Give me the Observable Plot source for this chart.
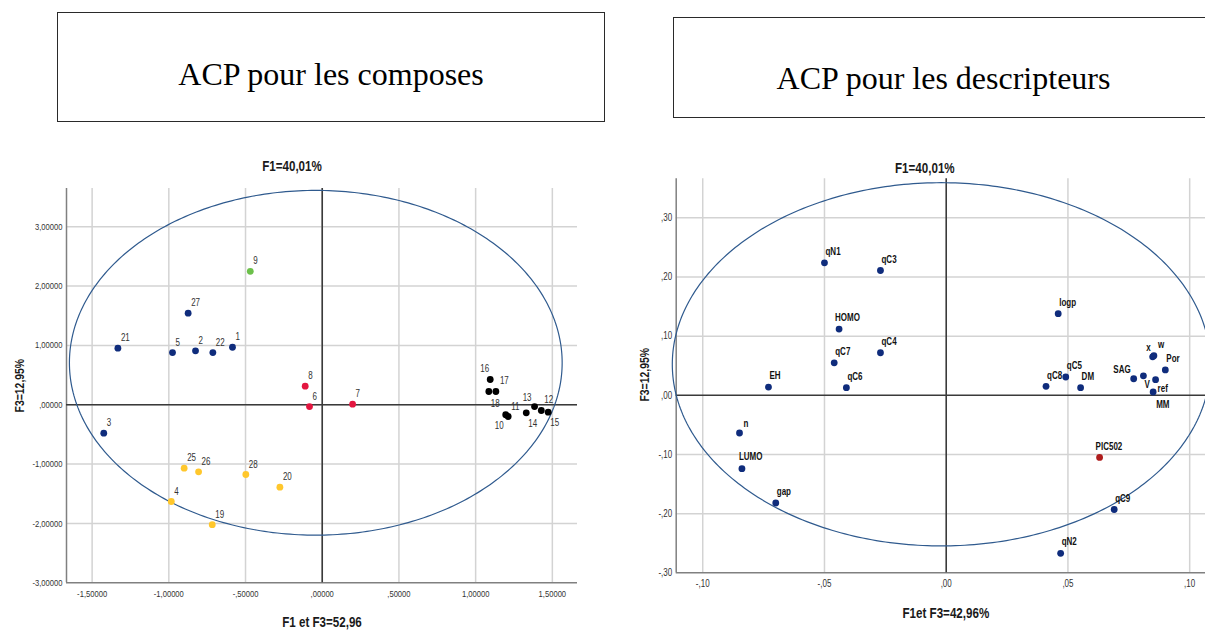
<!DOCTYPE html>
<html>
<head>
<meta charset="utf-8">
<script src="https://cdn.jsdelivr.net/npm/d3@7"></script>
<script src="https://cdn.jsdelivr.net/npm/@observablehq/plot@0.6"></script>
<style>
html,body{margin:0;padding:0;background:#fff;width:1205px;height:631px;overflow:hidden;}
#page{position:relative;width:1205px;height:631px;overflow:hidden;background:#fff;}
.tbox{position:absolute;box-sizing:border-box;border:1px solid #2a2a2a;}
.ttxt{position:absolute;text-align:center;font-family:"Liberation Serif","Times New Roman",serif;font-size:32px;line-height:32px;color:#000;white-space:nowrap;}
.chart{position:absolute;top:150px;height:481px;}
</style>
</head>
<body>
<div id="page">
  <div class="tbox" style="left:57px;top:12px;width:548px;height:110px"></div>
  <div class="ttxt" id="titleL" style="left:57px;width:548px;top:58px"></div>
  <div class="tbox" style="left:673px;top:17px;width:560px;height:101px"></div>
  <div class="ttxt" id="titleR" style="left:673px;width:541px;top:62px"></div>
  <div class="chart" id="chartL" style="left:0;width:640px"></div>
  <div class="chart" id="chartR" style="left:628px;width:577px"></div>
</div>
<script>
// ---------------- texts ----------------
const titleLeft = "ACP pour les composes";
const titleRight = "ACP pour les descripteurs";
const topTitleL = "F1=40,01%";
const bottomTitleL = "F1 et F3=52,96";
const yTitleL = "F3=12,95%";
const topTitleR = "F1=40,01%";
const bottomTitleR = "F1et F3=42,96%";
const yTitleR = "F3=12,95%";

// ---------------- left chart data: compounds ----------------
const compoundIds = ["1","2","3","4","5","6","7","8","9","10","11","12","13","14","15","16","17","18","19","20","21","22","25","26","27","28"];
const compoundF1 = [-0.585,-0.826,-1.424,-0.984,-0.976,-0.083,0.198,-0.111,-0.469,1.196,1.212,1.428,1.384,1.330,1.473,1.095,1.132,1.086,-0.717,-0.276,-1.332,-0.713,-0.900,-0.806,-0.874,-0.498];
const compoundF3 = [0.97,0.91,-0.478,-1.63,0.88,-0.03,0.01,0.314,2.25,-0.168,-0.197,-0.096,-0.03,-0.135,-0.124,0.426,0.224,0.224,-2.02,-1.389,0.954,0.88,-1.068,-1.13,1.544,-1.175];
const compoundGroup = ["A","A","A","B","A","C","C","C","D","E","E","E","E","E","E","E","E","E","B","B","A","A","B","B","A","B"];
const groupDomainL = ["A","B","C","D","E"];
const groupColorsL = ["#0f2c7c","#ffc72c","#e31640","#6cc04a","#000000"];
const xTicksL = [-1.5,-1,-0.5,0,0.5,1,1.5];
const yTicksL = [-3,-2,-1,0,1,2,3];
const xDomainL = [-1.667, 1.664];
const yDomainL = [-3.0, 3.645];
const ellipseL = {cx: -0.042, cy: 0.708, rx: 1.606, ry: 2.905};

// ---------------- right chart data: descriptors ----------------
const descNames = ["qN1","qC3","HOMO","qC4","qC7","qC6","EH","n","LUMO","gap","logp","qC8","qC5","DM","SAG","V","x","w","Por","ref","MM","PIC502","qC9","qN2"];
const descF1 = [-0.050,-0.027,-0.044,-0.027,-0.046,-0.041,-0.073,-0.0849,-0.0839,-0.070,0.046,0.041,0.0491,0.0552,0.077,0.081,0.0848,0.0853,0.090,0.086,0.085,0.063,0.069,0.047];
const descF3 = [0.224,0.211,0.112,0.072,0.055,0.013,0.014,-0.0637,-0.124,-0.182,0.138,0.0152,0.031,0.013,0.028,0.033,0.065,0.067,0.043,0.0265,0.0056,-0.105,-0.193,-0.267];
const descType = descNames.map(n => n === "PIC502" ? "activite" : "descripteur");
const typeDomainR = ["descripteur","activite"];
const typeColorsR = ["#0f2c7c","#ae1c1c"];
const xTicksR = [-0.10,-0.05,0,0.05,0.10];
const yTicksR = [-0.30,-0.20,-0.10,0,0.10,0.20,0.30];
const xDomainR = [-0.1109, 0.1065];
const yDomainR = [-0.30, 0.366];
const ellipseR = {cx: -0.002, cy: 0.0524, rx: 0.1105, ry: 0.307};

// ---------------- label placement (style) ----------------
const labelDefaultL = {anchor: "start", dx: 3, dy: -10};
const labelPlaceL = {
  "16": {anchor: "end", dx: -1, dy: -11},
  "17": {dx: 4, dy: -11},
  "18": {dx: 2, dy: 12},
  "10": {anchor: "end", dx: -2, dy: 11},
  "11": {dx: 3, dy: -10},
  "14": {dx: 2, dy: 11},
  "13": {anchor: "end", dx: -3, dy: -9},
  "12": {dx: 3, dy: -11},
  "15": {dx: 2, dy: 11}
};
const labelDefaultR = {anchor: "start", dx: 1, dy: -11};
const labelPlaceR = {
  "SAG": {anchor: "end", dx: -3, dy: -9},
  "x": {anchor: "end", dx: -2, dy: -9},
  "w": {dx: 4, dy: -11},
  "V": {dx: 1, dy: 9},
  "ref": {dx: 2, dy: 9},
  "MM": {dx: 3, dy: 13},
  "n": {dx: 4, dy: -9},
  "LUMO": {dx: -3, dy: -12},
  "HOMO": {dx: -4, dy: -11},
  "PIC502": {dx: -4, dy: -11}
};

// ---------------- helpers ----------------
const compounds = compoundIds.map((id, i) => ({id, f1: compoundF1[i], f3: compoundF3[i], group: compoundGroup[i]}));
const descriptors = descNames.map((id, i) => ({id, f1: descF1[i], f3: descF3[i], type: descType[i]}));

function spssFormat(digits) {
  return v => {
    let s = Math.abs(v).toFixed(digits).replace(".", ",");
    if (s.startsWith("0,")) s = s.slice(1);
    return (v < -1e-12 ? "-" : "") + s;
  };
}
function ellipsePoints(e, n) {
  return d3.range(n + 1).map(i => {
    const t = 2 * Math.PI * i / n;
    return {x: e.cx + e.rx * Math.cos(t), y: e.cy + e.ry * Math.sin(t)};
  });
}
function labelMarks(rows, place, def, style) {
  return rows.map(r => {
    const p = Object.assign({}, def, place[r.id] || {});
    return Plot.text([r], Object.assign({x: "f1", y: "f3", text: "id", dx: p.dx, dy: p.dy, textAnchor: p.anchor}, style));
  });
}
// condense horizontal texts (SPSS uses a narrow face); stretch rotated titles
function condense(svg, factor, fixedLengths) {
  svg.querySelectorAll("text").forEach(t => {
    const g = t.closest("g[aria-label]");
    const lab = g ? g.getAttribute("aria-label") : "";
    let len;
    if (fixedLengths[lab]) len = fixedLengths[lab];
    else { const w = t.getComputedTextLength(); if (!(w > 0)) return; len = w * factor; }
    t.setAttribute("textLength", len.toFixed(2));
    t.setAttribute("lengthAdjust", "spacingAndGlyphs");
  });
}

const FONT = "'Liberation Sans',Arial,sans-serif";
const gridStyle = {stroke: "#d3d3d3", strokeOpacity: 1, strokeWidth: 1.5};
const zeroStyle = {stroke: "#3a3a3a", strokeWidth: 1.6};
const frameStyle = {stroke: "#808080", strokeWidth: 1.5};
const axisTitleStyle = {fontWeight: "bold", fontSize: 14.5, fill: "#1a1a1a", textAnchor: "middle", lineAnchor: "middle"};
const yTitleStyle = {fontWeight: "bold", fontSize: 13, fill: "#1a1a1a", rotate: -90, frameAnchor: "left", textAnchor: "middle", lineAnchor: "middle", ariaLabel: "y-title"};

document.getElementById("titleL").textContent = titleLeft;
document.getElementById("titleR").textContent = titleRight;

// ---------------- left plot ----------------
const plotL = Plot.plot({
  width: 640, height: 481,
  marginLeft: 66, marginRight: 63, marginTop: 38, marginBottom: 48.7,
  style: {fontFamily: FONT, fontSize: "9px", background: "transparent", color: "#333"},
  x: {domain: xDomainL},
  y: {domain: yDomainL},
  color: {domain: groupDomainL, range: groupColorsL},
  marks: [
    Plot.gridX(xTicksL, gridStyle),
    Plot.gridY(yTicksL.filter(v => v !== yDomainL[0]), gridStyle),
    Plot.ruleX([xDomainL[0]], frameStyle),
    Plot.ruleY([yDomainL[0]], frameStyle),
    Plot.ruleX([0], zeroStyle),
    Plot.ruleY([0], zeroStyle),
    Plot.axisX(xTicksL, {anchor: "bottom", tickSize: 0, tickPadding: 7, tickFormat: spssFormat(5), label: null, fill: "#333", fontSize: 9.5}),
    Plot.axisY(yTicksL, {anchor: "left", tickSize: 0, tickPadding: 4, tickFormat: spssFormat(5), label: null, fill: "#333", fontSize: 9.5}),
    Plot.line(ellipsePoints(ellipseL, 360), {x: "x", y: "y", stroke: "#2f5a8e", strokeWidth: 1.2}),
    Plot.dot(compounds, {x: "f1", y: "f3", r: 3.4, fill: "group", stroke: null}),
    ...labelMarks(compounds, labelPlaceL, labelDefaultL, {fontSize: 10, fill: "#333"}),
    Plot.text([topTitleL], Object.assign({text: d => d, frameAnchor: "top", dx: -30, dy: -22}, axisTitleStyle)),
    Plot.text([bottomTitleL], Object.assign({text: d => d, frameAnchor: "bottom", dx: 0, dy: 40}, axisTitleStyle)),
    Plot.text([yTitleL], Object.assign({text: d => d, dx: -47, dy: 0}, yTitleStyle))
  ]
});
document.getElementById("chartL").appendChild(plotL);
condense(plotL, 0.8, {"y-title": 84});

// ---------------- right plot ----------------
const plotR = Plot.plot({
  width: 577, height: 481,
  marginLeft: 47.7, marginRight: 0, marginTop: 28.3, marginBottom: 58.7,
  style: {fontFamily: FONT, fontSize: "10px", background: "transparent", color: "#333"},
  x: {domain: xDomainR},
  y: {domain: yDomainR},
  color: {domain: typeDomainR, range: typeColorsR},
  marks: [
    Plot.gridX(xTicksR.filter(v => v !== 0), gridStyle),
    Plot.gridY(yTicksR.filter(v => v !== yDomainR[0] && v !== 0), gridStyle),
    Plot.ruleX([xDomainR[0]], frameStyle),
    Plot.ruleY([yDomainR[0]], frameStyle),
    Plot.ruleX([0], zeroStyle),
    Plot.ruleY([0], zeroStyle),
    Plot.axisX(xTicksR, {anchor: "bottom", tickSize: 0, tickPadding: 7, tickFormat: spssFormat(2), label: null, fill: "#333", fontSize: 10}),
    Plot.axisY(yTicksR, {anchor: "left", tickSize: 0, tickPadding: 4, tickFormat: spssFormat(2), label: null, fill: "#333", fontSize: 10}),
    Plot.line(ellipsePoints(ellipseR, 360), {x: "x", y: "y", stroke: "#2f5a8e", strokeWidth: 1.2}),
    Plot.dot(descriptors, {x: "f1", y: "f3", r: 3.4, fill: "type", stroke: null}),
    ...labelMarks(descriptors, labelPlaceR, labelDefaultR, {fontSize: 10, fontWeight: "bold", fill: "#111"}),
    Plot.text([topTitleR], Object.assign({text: d => d, frameAnchor: "top", dx: -16, dy: -10}, axisTitleStyle)),
    Plot.text([bottomTitleR], Object.assign({text: d => d, frameAnchor: "bottom", dx: 5, dy: 40.4}, axisTitleStyle)),
    Plot.text([yTitleR], Object.assign({text: d => d, dx: -31, dy: -1}, yTitleStyle))
  ]
});
document.getElementById("chartR").appendChild(plotR);
condense(plotR, 0.8, {"y-title": 80});
</script>
</body>
</html>
